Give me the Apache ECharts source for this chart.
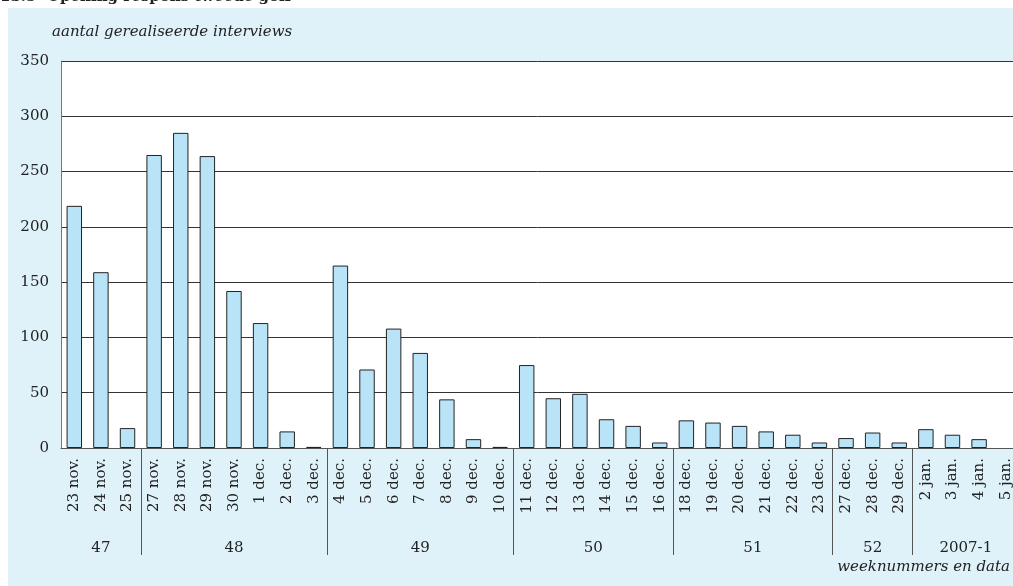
<!DOCTYPE html>
<html>
<head>
<meta charset="utf-8">
<script src="https://cdn.jsdelivr.net/npm/echarts@6/dist/echarts.min.js"></script>
<style>
  html, body { margin: 0; padding: 0; background: #fff; }
  #chart { width: 1013px; height: 586px; }
</style>
</head>
<body>
<div id="chart"></div>
<script>
// dagen (categorieën) en aantal gerealiseerde interviews per dag
const days = [
  '23 nov.', '24 nov.', '25 nov.',
  '27 nov.', '28 nov.', '29 nov.', '30 nov.', '1 dec.', '2 dec.', '3 dec.',
  '4 dec.', '5 dec.', '6 dec.', '7 dec.', '8 dec.', '9 dec.', '10 dec.',
  '11 dec.', '12 dec.', '13 dec.', '14 dec.', '15 dec.', '16 dec.',
  '18 dec.', '19 dec.', '20 dec.', '21 dec.', '22 dec.', '23 dec.',
  '27 dec.', '28 dec.', '29 dec.',
  '2 jan.', '3 jan.', '4 jan.', '5 jan.'
];
const interviews = [
  219, 159, 18,
  265, 285, 264, 142, 113, 15, 1,
  165, 71, 108, 86, 44, 8, 1,
  75, 45, 49, 26, 20, 5,
  25, 23, 20, 15, 12, 5,
  9, 14, 5,
  17, 12, 8, null
];
// weeknummers en aantal dagen per week
const weeks = ['47', '48', '49', '50', '51', '52', '2007-1'];
const daysPerWeek = [3, 7, 7, 6, 6, 3, 4];
const yMax = 350;
const yStep = 50;

// tweede as in halve dagen: label in het midden van een week, streep op de grens
const weekSlots = new Array(days.length * 2 + 1).fill('');
const weekBounds = new Set();
let start = 0;
weeks.forEach((w, i) => {
  weekSlots[2 * start + daysPerWeek[i]] = w;
  if (start > 0) weekBounds.add(2 * start);
  start += daysPerWeek[i];
});

const serif = '"DejaVu Serif", "Liberation Serif", serif';
const chart = echarts.init(document.getElementById('chart'));

chart.setOption({
  animation: false,
  backgroundColor: '#ffffff',
  textStyle: { fontFamily: serif },
  graphic: [
    {
      type: 'rect', z: -10, silent: true,
      shape: { x: 8, y: 8, width: 1010, height: 580 },
      style: { fill: '#dff2fa' }
    },
    {
      type: 'text', left: 0, top: -10,
      style: { text: '13.5  Opening respons tweede golf', font: 'bold 15px ' + serif, fill: '#222' }
    },
    {
      type: 'text', left: 52, top: 25,
      style: { text: 'aantal gerealiseerde interviews', font: 'italic 15px ' + serif, fill: '#222' }
    },
    {
      type: 'text', right: 3, top: 560,
      style: { text: 'weeknummers en data', font: 'italic 15px ' + serif, fill: '#222' }
    }
  ],
  grid: {
    left: 61, top: 61, width: 958, height: 387,
    outerBoundsMode: 'none',
    show: true, backgroundColor: '#ffffff', borderWidth: 0
  },
  xAxis: [
    {
      type: 'category',
      data: days,
      position: 'bottom',
      axisLine: { lineStyle: { color: '#555', width: 1 } },
      axisTick: { show: false },
      axisLabel: {
        interval: 0, rotate: 90, margin: 10,
        fontSize: 15, color: '#222', fontFamily: serif
      }
    },
    {
      type: 'category',
      data: weekSlots,
      position: 'bottom',
      offset: 0,
      boundaryGap: false,
      axisLine: { show: false },
      axisTick: {
        show: true, inside: false, length: 107,
        interval: (i) => weekBounds.has(i),
        lineStyle: { color: '#555', width: 1 }
      },
      axisLabel: {
        interval: 0, margin: 93,
        fontSize: 15, color: '#222', fontFamily: serif
      }
    }
  ],
  yAxis: {
    type: 'value',
    min: 0, max: yMax, interval: yStep,
    axisLine: { show: true, lineStyle: { color: '#777', width: 1 } },
    axisTick: { show: false },
    axisLabel: { margin: 12, fontSize: 15, color: '#222', fontFamily: serif },
    splitLine: { lineStyle: { color: '#333', width: 1 } }
  },
  series: [
    {
      type: 'bar',
      xAxisIndex: 0,
      data: interviews,
      barWidth: '58%',
      itemStyle: { color: '#b9e4f8', borderColor: '#222', borderWidth: 1 }
    }
  ]
});
</script>
</body>
</html>
